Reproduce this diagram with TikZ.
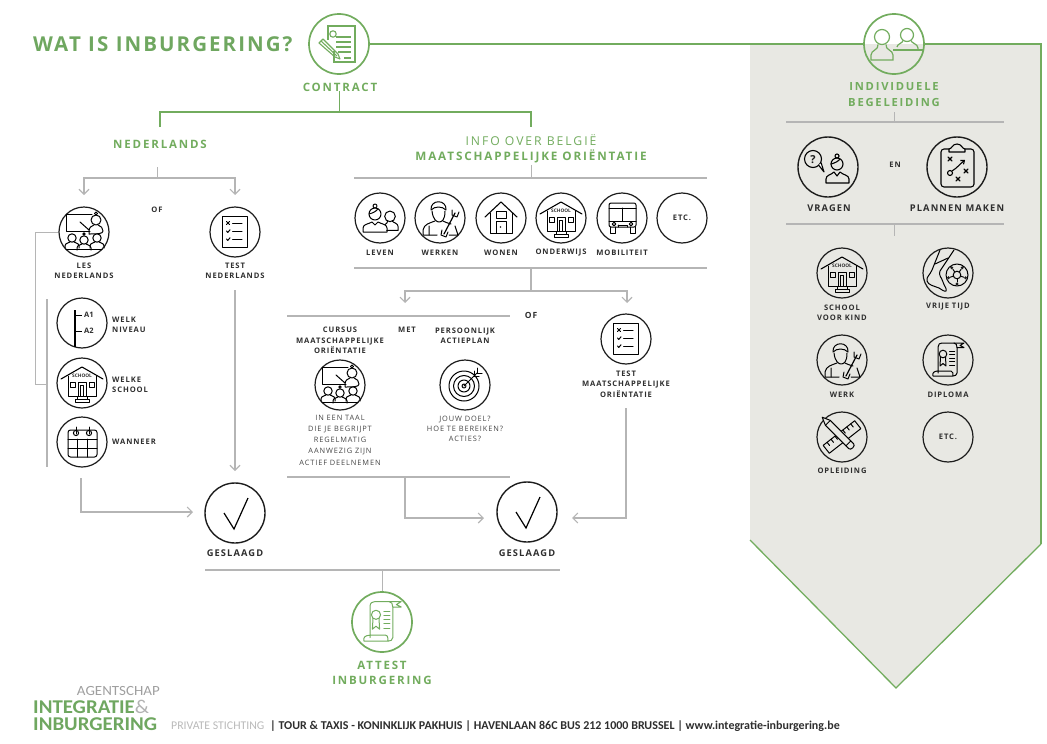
\documentclass[tikz,border=0pt]{standalone}
\usepackage{fontspec}
\usetikzlibrary{arrows.meta,calc}
\setmainfont{Open Sans}
\newfontfamily\labfam[LetterSpace=12]{Open Sans}
\newfontfamily\wideFam[LetterSpace=16]{Open Sans}
\newfontfamily\titlefam[LetterSpace=10]{Open Sans}
\newfontfamily\footfam{Carlito}
\newfontfamily\logofam[FakeStretch=1.07]{Carlito}
\definecolor{grn}{HTML}{72AC5E}
\definecolor{grnd}{HTML}{6FA760}
\definecolor{gryl}{HTML}{B5B5B5}
\definecolor{pan}{HTML}{E8E8E3}
\definecolor{ink}{HTML}{1C1C1C}
\definecolor{labc}{HTML}{2E2E2E}
\definecolor{thinc}{HTML}{454545}
\tikzset{
  ic/.style={circle,draw=ink,line width=1.2pt,minimum size=50pt,inner sep=0pt,font=\labfam\bfseries\fontsize{7.6}{9}\selectfont,text=labc},
  icb/.style={ic,minimum size=60pt,line width=1.4pt},
  icg/.style={circle,draw=grn,line width=1.7pt,minimum size=60pt,inner sep=0pt},
  lab/.style={font=\labfam\bfseries\fontsize{7.6}{10.4}\selectfont,text=labc,align=center,inner sep=0pt},
  labbig/.style={lab,font=\labfam\bfseries\fontsize{9.3}{11}\selectfont},
  labl/.style={lab,anchor=west,align=left},
  thin lab/.style={font=\labfam\fontsize{7.4}{10.2}\selectfont,text=thinc,align=center,inner sep=0pt},
  green lab/.style={font=\wideFam\bfseries\fontsize{11.5}{15.5}\selectfont,text=grn,align=center,inner sep=0pt},
  gline/.style={draw=gryl,line width=1.1pt},
  gthin/.style={draw=gryl,line width=.8pt},
  arr/.style={draw=gryl,line width=1.3pt,-{Straight Barb[length=5pt,width=10pt,line width=1.1pt]}},
  grline/.style={draw=grn,line width=2pt},
  ink line/.style={line width=1pt,line cap=round,line join=round},
}
\tikzset{
 pics/woman/.style={code={
   \draw[ink line] (0,-7) circle[radius=6];
   \draw[ink line] (0,-15) circle[radius=2];
   \draw[ink line] (-6,-7) .. controls (-2,-8) and (2,-10) .. (3,-12.5);
   \draw[ink line] (-12,11) -- (-12,7) .. controls (-12,3) and (-6,3) .. (-3,1) -- (0,4) -- (3,1) .. controls (6,3) and (12,3) .. (12,7) -- (12,11) -- cycle;
 }},
 pics/check/.style={code={
   \draw[line width=1.2pt,line join=miter] (-11,0) -- (-1,16) -- (13,-15);
 }},
 pics/listicon/.style={code={
   \draw[ink line,line width=1.2pt] (-12.5,-15.5) rectangle (12.5,15.5);
   \draw[ink line] (-8.5,-10.5) -- (-5.5,-7.5) (-8.5,-7.5) -- (-5.5,-10.5);
   \draw[ink line] (-8.5,-1) -- (-7.2,.4) -- (-5,-2.2);
   \draw[ink line] (-8.5,7) -- (-7.2,8.4) -- (-5,5.8);
   \foreach \yy in {-9,-1,7} \draw[ink line] (-2.5,\yy) -- (7,\yy);
 }},
 pics/classroom/.style={code={
   \draw[ink line] (6,-1) -- (-18,-1) -- (-18,-18) -- (8,-18);
   \draw[ink line] (-4,-10) -- (5,-2);
   \draw[ink line] (12,-12) circle[radius=5];
   \draw[ink line] (12,-18.5) circle[radius=1.5];
   \draw[ink line] (5,-1) .. controls (5,-5) and (8,-6) .. (10,-7) (14,-7) .. controls (17,-6) and (19,-4) .. (19,-1) .. controls (19,2) and (13,2) .. (5,2) -- (5,-1);
   \foreach \xx/\yy in {-12/6,13/6,0/8} {
     \draw[ink line,fill=white] (\xx,\yy) circle[radius=4.2];
     \draw[ink line] (\xx-7,\yy+10) -- (\xx-7,\yy+8) .. controls (\xx-7,\yy+5) and (\xx-3,\yy+5) .. (\xx-2,\yy+4) (\xx+2,\yy+4) .. controls (\xx+3,\yy+5) and (\xx+7,\yy+5) .. (\xx+7,\yy+8) -- (\xx+7,\yy+10);
   }
   \draw[ink line] (0,2) circle[radius=1.2];
   \draw[ink line] (-18,17) -- (18,17);
 }},
 pics/levels/.style={code={
   \draw[line width=1.2pt] (-7,-13) -- (-7,24);
   \draw[line width=1pt] (-7,-8) -- (0,-8) (-7,8) -- (0,8);
   \node[font=\bfseries\fontsize{7.5}{8}\selectfont,text=labc,anchor=west,inner sep=0pt] (lva) at (2,-8) {A1};
   \node[font=\bfseries\fontsize{7.5}{8}\selectfont,text=labc,anchor=west,inner sep=0pt] (lvb) at (2,8) {A2};
 }},
 pics/school/.style={code={
   \draw[ink line,line width=1.1pt] (-21,-4) -- (0,-16) -- (21,-4);
   \draw[ink line] (-14,-7) -- (-14,13) -- (14,13) -- (14,-7);
   \draw[ink line] (-5,16.5) rectangle (5,13) (-7,19) rectangle (7,16.5);
   \draw[ink line] (-4,13) -- (-4,-.5) -- (4,-.5) -- (4,13) (-1.5,13) -- (-1.5,2) -- (1.5,2) -- (1.5,13);
   \draw[ink line] (-12,-.5) rectangle (-7,4.5) (7,-.5) rectangle (12,4.5);
   \node[font=\bfseries\fontsize{4.8}{5}\selectfont,text=labc,inner sep=0pt] at (0,-7) {SCHOOL};
 }},
 pics/calendar/.style={code={
   \draw[ink line,rounded corners=2.5pt] (-14,-12) rectangle (15,15);
   \draw[ink line] (-14,-3) -- (15,-3) (-14,6) -- (15,6) (-5,-3) -- (-5,15) (5,-3) -- (5,15);
   \foreach \xx in {-6,7} {\draw[ink line] (\xx,-9) circle[radius=2.6]; \draw[ink line] (\xx,-15) -- (\xx,-8);}
 }},
 pics/house/.style={code={
   \draw[ink line,line width=1.1pt] (-16,-1) -- (0,-16) -- (16,-1);
   \draw[ink line] (-11,-5) -- (-11,15) -- (11,15) -- (11,-5);
   \draw[ink line] (-5,3) rectangle (5,15) (-5,-7) rectangle (5,0);
   \fill[ink] (-.5,9) circle[radius=.9];
 }},
 pics/bus/.style={code={
   \draw[ink line,rounded corners=2pt] (-13,-15) rectangle (14,9);
   \draw[ink line] (-13,-10) -- (14,-10) (-13,3) -- (14,3) (.5,-10) -- (.5,3);
   \draw[ink line] (-8,6) circle[radius=1.8] (9,6) circle[radius=1.8];
   \draw[ink line] (-4,7) -- (5,7) -- (5,9) (-4,7) -- (-4,9);
   \draw[ink line] (-12,9) -- (-12,15) -- (-7,15) -- (-7,9) (8,9) -- (8,15) -- (13,15) -- (13,9);
 }},
 pics/target/.style={code={
   \draw[ink line] (-1,1) circle[radius=15] (-1,1) circle[radius=10.5] (-1,1) circle[radius=6] (-1,1) circle[radius=2];
   \draw[ink line] (-1,1) -- (12,-12);
   \draw[ink line] (9,-9) -- (9,-14) (12,-12) -- (12,-17) (9,-9) -- (14,-9) (12,-12) -- (17,-12);
 }},
 pics/scroll/.style={code={
   \draw[ink line] (-10,13) -- (-10,-13) .. controls (-10,-16) and (-8,-17) .. (-6,-17) -- (16,-17) -- (12,-14.5) -- (16,-12.5) -- (9,-12.5) -- (9,13) .. controls (9,15) and (7,16) .. (5,16) -- (-15,16) .. controls (-16,13) and (-14,11) .. (-10,11) -- (3,11) .. controls (5,11) and (5,14) .. (5,16);
   \draw[ink line] (9,-12.5) .. controls (9,-15) and (8,-17) .. (6,-17);
   \draw[ink line] (-5,-6) circle[radius=3.8];
   \draw[ink line] (-7.5,-3) -- (-8,6) -- (-5,3.5) -- (-2,6) -- (-2.5,-3);
   \foreach \yy in {-9,-5.5,-2,1.5,5} \draw[ink line] (1.5,\yy) -- (6.5,\yy);
 }},
 pics/contract/.style={code={
   \draw[line width=1.1pt] (-5,7) -- (-5,18) -- (16,18) -- (16,-18) -- (-11,-18) -- (-11,-4);
   \draw[line width=1.1pt] (-6,-10) circle[radius=3.2];
   \foreach \yy in {-7,-2,3} \draw[line width=1.1pt] (-3,\yy) -- (12,\yy);
   \draw[line width=1.1pt] (-1,8) -- (12,8) (5,14) -- (12,14);
   \draw[line width=1.1pt,line join=round] (-20,-1) -- (-16,-5) -- (-1,10) -- (1,15) -- (-4,13) -- cycle;
   \draw[line width=1.1pt] (-18,-3) -- (-2,12);
 }},
 pics/people/.style={code={
   \draw[line width=1.2pt] (-12,-7) circle[radius=7.5];
   \draw[line width=1.2pt] (-16,0.5) .. controls (-15,6) and (-23,6) .. (-23,11) -- (-23,16) -- (-1,16) -- (-1,11) .. controls (-1,6) and (-9,6) .. (-8,0.5);
   \draw[line width=1.2pt] (13,-9) circle[radius=6.5];
   \draw[line width=1.2pt] (3,3) .. controls (3,0) and (9,-1) .. (9,-3.5) (17,-3.5) .. controls (17,-1) and (24,0) .. (24,4) -- (24,6);
   \draw[line width=1.2pt] (-1,6) -- (29,6);
 }},
 pics/question/.style={code={
   \draw[ink line,line width=1.1pt] (-15,-8) circle[radius=8.5];
   \draw[fill=white,draw=none] (-9.5,-2) -- (-4,5) -- (-6,-4) -- cycle;
   \draw[ink line,line width=1.1pt] (-9.5,-2) -- (-4,5) -- (-6.8,-4);
   \node[font=\bfseries\fontsize{11}{11}\selectfont,text=ink,inner sep=0pt] at (-15,-7.5) {?};
   \draw[ink line,line width=1.1pt] (9,-3) circle[radius=6];
   \draw[ink line,line width=1.1pt] (9,-11) circle[radius=2];
   \draw[ink line,line width=1.1pt] (3,-3) .. controls (7,-4) and (11,-6) .. (12,-8.3);
   \draw[ink line,line width=1.1pt] (-2,16) -- (-2,12) .. controls (-2,8) and (3,8) .. (6,5) -- (9,9) -- (12,5) .. controls (15,8) and (21,8) .. (21,12) -- (21,16) -- cycle;
 }},
 pics/plan/.style={code={
   \draw[ink line,line width=1.1pt,rounded corners=3pt] (-16,-18) rectangle (17,20);
   \draw[ink line,line width=1.1pt,fill=pan] (-8,-15) -- (-8,-18) .. controls (-5,-18) and (-5,-23) .. (0,-23) .. controls (5,-23) and (5,-18) .. (8,-18) -- (8,-15) -- cycle;
   \draw[ink line,line width=1.2pt] (-9,-10) -- (-5,-6) (-9,-6) -- (-5,-10) (7,2) -- (11,6) (7,6) -- (11,2) (-1,10) -- (3,14) (-1,14) -- (3,10);
   \draw[ink line,line width=1.1pt] (-7,6) circle[radius=2.5];
   \draw[ink line,line width=1.1pt,-{Straight Barb[length=3pt,width=5pt]}] (-5,4) .. controls (0,1) and (3,-3) .. (8,-7);
 }},
 pics/worker/.style={code={
   \draw[ink line] (-9,-8) .. controls (-10,-19) and (7,-19) .. (6,-8) (-9,-8) .. controls (-5,-12) and (2,-12) .. (6,-8);
   \draw[ink line] (-8,-7) .. controls (-7,2) and (-3,4) .. (-1,4) .. controls (2,4) and (5,2) .. (5,-7);
   \draw[ink line] (-5,3) .. controls (-10,5) and (-16,6) .. (-17,12) -- (-17,17) -- (-3,17) ;
   \draw[ink line] (-11,8) -- (-11,17) (3,3) .. controls (7,5) and (8,5) .. (11,6);
   \draw[ink line,line width=1.2pt] (15,-5) -- (4,16);
   \draw[ink line] (12,-8) -- (12,-3) -- (17,-1) -- (19,-6) (2,12) -- (1,17) -- (6,19) -- (8,14);
   \draw[ink line] (15,8) -- (18,17) -- (9,17);
 }},
 pics/leg/.style={code={
   \draw[ink line] (-8,-23) -- (-16,-3) .. controls (-18,2) and (-22,4) .. (-21,8) .. controls (-20,12) and (-14,13) .. (-9,15) .. controls (-6,17) and (-3,19) .. (-2,18) .. controls (-1,15) and (-4,13) .. (-5,9) .. controls (-6,5) and (-10,2) .. (-8,-2) -- (6,-23);
   \draw[ink line] (-13,-9) -- (0,-15);
   \draw[ink line] (9,2) circle[radius=11];
   \draw[ink line] (9,2) circle[radius=3.8];
   \foreach \aa in {90,162,234,306,18} \draw[ink line] ($(9,2)+(\aa:3.8)$) -- ($(9,2)+(\aa:7)$);
   \foreach \aa in {90,162,234,306,18} \fill[ink] ($(9,2)+(\aa:9)$) circle[radius=1.6];
 }},
 pics/tools/.style={code={
   \begin{scope}[rotate=38]
    \draw[ink line] (-20,-5) rectangle (20,5);
    \foreach \xx in {-15,-10,-5,0,5,10,15} \draw[ink line] (\xx,-5) -- (\xx,-1);
   \end{scope}
   \begin{scope}[rotate=-45]
    \draw[ink line,fill=pan] (-20,-3.5) -- (13,-3.5) .. controls (16,-3.5) and (16,3.5) .. (13,3.5) -- (-20,3.5) -- (-28,0) -- cycle;
    \draw[ink line] (-20,-3.5) -- (-20,3.5) (9,-3.5) -- (9,3.5);
   \end{scope}
 }},
}
\begin{document}
\begin{tikzpicture}[x=1pt,y=-1pt]
\useasboundingbox (0,0) rectangle (1047,744);
% panel
\fill[pan] (750,44) -- (1041,44) -- (1041,544) -- (896,688) -- (750,540) -- cycle;
% icon circles
\node[icg] (contract) at (339,44) {};
\node[icg] (people) at (894,44) {};
\pic[color=grn] at (339,44) {contract};
\pic[color=grn] at (894,44) {people};
\draw[grline] (contract) -- (people);
\draw[grline] (people) -- (1041,44) -- (1041,544);
\draw[draw=grn,line width=1.3pt] (1041,544) -- (896,688) -- (750,540);
% title
\node[font=\titlefam\bfseries\fontsize{20.5}{24}\selectfont,text=grnd,anchor=west,inner sep=0pt] (title) at (33,44) {WAT IS INBURGERING?};
\node[green lab] (contractl) at (340,87) {CONTRACT};
\coordinate (split) at (339,112);
\coordinate (nedtop) at (160,127);
\coordinate (orient) at (531,127);
\draw[draw=grn,line width=1pt] (contractl.south -| split) -- (split);
\draw[grline] (nedtop) -- (nedtop |- split) -- (orient |- split) -- (orient);
\node[green lab] (ned) at (160,144) {NEDERLANDS};
\node[font=\wideFam\fontsize{12.2}{15}\selectfont,text=grn,inner sep=0pt] (info) at (531,140) {INFO OVER BELGIË};
\node[green lab,font=\wideFam\bfseries\fontsize{11.7}{15}\selectfont] (mo) at (531,156) {MAATSCHAPPELIJKE ORIËNTATIE};

% Nederlands branch
\coordinate (nj) at (157,178);
\coordinate (nl) at (84,195);
\coordinate (nr) at (235,195);
\draw[gthin] (157,167) -- (nj);
\draw[arr] (nj) -- (nl |- nj) -- (nl);
\draw[arr] (nj) -- (nr |- nj) -- (nr);
\node[lab] (of1) at (157,210) {OF};
\node[ic] (les) at (84,232) {};
\pic at (84,232) {classroom};
\node[ic] (testn) at (235,232) {};
\pic at (235,232) {listicon};
\node[lab] (lesl) at (84,271) {LES\\NEDERLANDS};
\node[lab] (testnl) at (235,271) {TEST\\NEDERLANDS};
\coordinate (brk) at (35,384);
\coordinate (barT) at (47,299);
\coordinate (barB) at (47,467);
\draw[gthin] (les.west) -- (brk |- les.west) -- (brk) -- (47,384);
\draw[draw=gryl,line width=1.3pt] (barT) -- (barB);
\node[ic] (niv) at (82,323) {};
\pic at (82,323) {levels};
\node[ic] (sch1) at (82,383) {};
\pic at (82,383) {school};
\node[ic] (wan) at (82,442) {};
\pic at (82,442) {calendar};
\node[labl] (nivl) at (112,325) {WELK\\NIVEAU};
\node[labl] (sch1l) at (112,385) {WELKE\\SCHOOL};
\node[labl] (wanl) at (112,442) {WANNEER};
\node[icb] (ok1) at (235,513) {};
\pic at (235,513) {check};
\node[labbig] (ok1l) at (235,553) {GESLAAGD};
\coordinate (w0) at (81,478);
\coordinate (w1) at (193,512);
\draw[arr] (w0) -- (w0 |- w1) -- (w1);
\coordinate (t0) at (235,290);
\coordinate (t1) at (235,471);
\draw[arr] (t0) -- (t1);

% Orientation row
\coordinate (oc) at (531,178);
\draw[gthin] (mo.south -| oc) ++(0,2) -- (oc);
\draw[gline] (354,178) -- (707,178);
\node[ic] (leven) at (380,218) {};
\pic at (375,221) {woman};
\begin{scope}[shift={(390,218)},scale=.82]
 \draw[ink line] (0,-2) circle[radius=6.5];
 \draw[ink line] (-6,8) .. controls (-4,6) and (-3,6) .. (-3,4) (3,4) .. controls (4,6) and (10,6) .. (10,11) -- (10,15) -- (-4,15);
\end{scope}
\node[ic] (werken) at (440,218) {};
\pic at (440,218) {worker};
\node[ic] (wonen) at (501,218) {};
\pic at (501,218) {house};
\node[ic] (onder) at (561,218) {};
\pic at (561,218) {school};
\node[ic] (mob) at (622,218) {};
\pic at (622,218) {bus};
\node[ic] (etc1) at (682,218) {ETC.};
\node[lab] (levenl) at (380,253) {LEVEN};
\node[lab] (werkenl) at (440,253) {WERKEN};
\node[lab] (wonenl) at (501,253) {WONEN};
\node[lab] (onderl) at (561,253) {ONDERWIJS};
\node[lab] (mobl) at (622,253) {MOBILITEIT};
\draw[gline] (354,268) -- (707,268);
\coordinate (rc) at (531,268);
\coordinate (rj) at (531,291);
\coordinate (rl) at (405,303);
\coordinate (rr) at (627,303);
\draw[draw=gryl,line width=1.3pt] (rc) -- (rj);
\draw[arr] (rj) -- (rl |- rj) -- (rl);
\draw[arr] (rj) -- (rr |- rj) -- (rr);
\draw[gline] (287,316) -- (510,316);
\node[lab,font=\labfam\bfseries\fontsize{8.5}{10}\selectfont] (of2) at (531,315) {OF};
\node[lab] (curl) at (340,340.5) {CURSUS\\MAATSCHAPPELIJKE\\ORIËNTATIE};
\node[lab] (met) at (407,330) {MET};
\node[lab] (perl) at (465,335.5) {PERSOONLIJK\\ACTIEPLAN};
\node[ic] (cur) at (340,385) {};
\pic at (340,385) {classroom};
\node[ic] (tar) at (465,385) {};
\pic at (465,385) {target};
\node[thin lab] (t1l) at (340,424) {IN EEN TAAL\\DIE JE BEGRIJPT};
\node[thin lab] (t2l) at (340,446) {REGELMATIG\\AANWEZIG ZIJN};
\node[thin lab] (t3l) at (340,463) {ACTIEF DEELNEMEN};
\node[thin lab] (t4l) at (465,429) {JOUW DOEL?\\HOE TE BEREIKEN?\\ACTIES?};
\draw[gline] (287,477) -- (510,477);
\node[ic] (testm) at (626,339) {};
\pic at (626,339) {listicon};
\node[lab] (testml) at (626,384) {TEST\\MAATSCHAPPELIJKE\\ORIËNTATIE};
\node[icb] (ok2) at (527,512) {};
\pic at (527,512) {check};
\node[labbig] (ok2l) at (527,553) {GESLAAGD};
\coordinate (a0) at (405,477);
\coordinate (a1) at (484,518);
\draw[arr] (a0) -- (a0 |- a1) -- (a1);
\coordinate (b0) at (626,408);
\coordinate (b1) at (572,518);
\draw[arr] (b0) -- (b0 |- b1) -- (b1);

% attest
\draw[gline] (205,570) -- (560,570);
\coordinate (at0) at (382,570);
\node[icg] (att) at (382,622) {};
\pic[color=grn,scale=1.2] at (382,622) {scroll};
\draw[gthin] (at0) -- (at0 |- att.north);
\node[green lab,font=\wideFam\bfseries\fontsize{11.5}{15}\selectfont] (attl) at (382,672.5) {ATTEST\\INBURGERING};

% right panel
\node[green lab,font=\wideFam\bfseries\fontsize{11.2}{16}\selectfont] (ind) at (894,95) {INDIVIDUELE\\BEGELEIDING};
\coordinate (p0) at (894,122);
\draw[gthin] (894,112) -- (p0);
\draw[gline] (786,122) -- (1004,122);
\node[icb] (vr) at (828,167) {};
\pic at (828,167) {question};
\node[icb] (pl) at (957,167) {};
\pic at (957,167) {plan};
\node[lab] (en) at (895,165) {EN};
\node[labbig] (vrl) at (829,208) {VRAGEN};
\node[labbig] (pll) at (957,208) {PLANNEN MAKEN};
\draw[gline] (786,224) -- (1004,224);
\coordinate (p1) at (894,224);
\draw[gthin] (p1) -- (894,236);
\node[ic] (sch2) at (842,273) {};
\pic at (842,273) {school};
\node[ic] (vrij) at (948,273) {};
\pic at (948,273) {leg};
\node[ic] (werk) at (842,360) {};
\pic at (842,360) {worker};
\node[ic] (dipl) at (948,360) {};
\pic at (948,360) {scroll};
\node[ic] (opl) at (842,437) {};
\pic at (842,437) {tools};
\node[ic] (etc2) at (948,437) {ETC.};
\node[lab] (sch2l) at (842,312.5) {SCHOOL\\VOOR KIND};
\node[lab] (vrijl) at (948,307) {VRIJE TIJD};
\node[lab] (werkl) at (842,395) {WERK};
\node[lab] (dipll) at (948,395) {DIPLOMA};
\node[lab] (opll) at (842,471) {OPLEIDING};

% footer
\node[font=\logofam\fontsize{14}{15}\selectfont,text=gray!75,anchor=east,inner sep=0pt] (ag) at (160,691) {AGENTSCHAP};
\node[font=\logofam\bfseries\fontsize{19.5}{20}\selectfont,text=grnd,anchor=west,inner sep=0pt] (integ) at (33,706.5) {INTEGRATIE\mdseries\color{gray!60}\&};
\node[font=\logofam\bfseries\fontsize{19.5}{20}\selectfont,text=grnd,anchor=west,inner sep=0pt] (inb) at (33,724.5) {INBURGERING};
\node[font=\footfam\fontsize{11.8}{12}\selectfont,text=gray!55,anchor=west,inner sep=0pt] (priv) at (171,726) {PRIVATE STICHTING};
\node[font=\footfam\bfseries\fontsize{12}{12}\selectfont,text=labc,anchor=west,inner sep=0pt] (addr) at (270,726) {| TOUR \& TAXIS - KONINKLIJK PAKHUIS | HAVENLAAN 86C BUS 212 1000 BRUSSEL | www.integratie-inburgering.be};
\end{tikzpicture}
\end{document}
